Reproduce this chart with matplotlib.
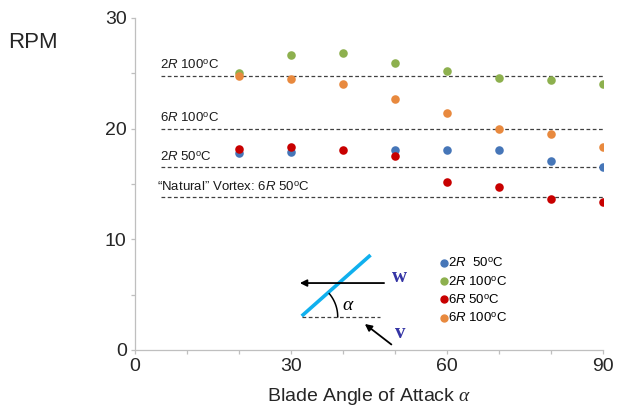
import numpy as np
import matplotlib
matplotlib.use("Agg")
import matplotlib.pyplot as plt
from matplotlib.lines import Line2D

plt.rcParams['font.family'] = ['Liberation Sans', 'DejaVu Sans']
plt.rcParams['mathtext.fontset'] = 'custom'
plt.rcParams['mathtext.rm'] = 'Liberation Sans'
plt.rcParams['mathtext.sf'] = 'Liberation Sans:italic'
plt.rcParams['mathtext.it'] = 'Liberation Serif:italic'

# ---- data ----
angles = [20, 30, 40, 50, 60, 70, 80, 90]
angles_2r50 = [20, 30, 50, 60, 70, 80, 90]
rpm_2r50 = [17.8, 17.9, 18.1, 18.1, 18.05, 17.1, 16.5]
rpm_2r100 = [25.05, 26.65, 26.8, 25.9, 25.2, 24.6, 24.4, 24.0]
rpm_6r50 = [18.2, 18.3, 18.1, 17.5, 15.2, 14.7, 13.6, 13.4]
rpm_6r100 = [24.8, 24.5, 24.0, 22.65, 21.45, 20.0, 19.5, 18.3]

ref_levels = [24.8, 20.0, 16.55, 13.8]
ref_labels = [r"2$\mathsf{R}$ 100$^{\mathrm{o}}$C",
              r"6$\mathsf{R}$ 100$^{\mathrm{o}}$C",
              r"2$\mathsf{R}$ 50$^{\mathrm{o}}$C",
              r"“Natural” Vortex: 6$\mathsf{R}$ 50$^{\mathrm{o}}$C"]

legend_labels = [r"2$\mathsf{R}$  50$^{\mathrm{o}}$C",
                 r"2$\mathsf{R}$ 100$^{\mathrm{o}}$C",
                 r"6$\mathsf{R}$ 50$^{\mathrm{o}}$C",
                 r"6$\mathsf{R}$ 100$^{\mathrm{o}}$C"]

c_blue = '#4676B8'
c_green = '#8DB04E'
c_red = '#C80000'
c_orange = '#E8893E'

fig = plt.figure(figsize=(6.19, 4.17), dpi=100)
ax = fig.add_axes([135/619, 1-350/417, 468/619, 332/417])

ax.set_xlim(0, 90)
ax.set_ylim(0, 30)

# reference lines
for lvl, lab in zip(ref_levels, ref_labels):
    ax.hlines(lvl, 5, 90, colors='#404040', linestyles=(0, (3, 2)), lw=0.9, zorder=1)
    xl = 4.2 if lab.startswith("“") else 4.8
    ax.text(xl, lvl + 0.9, lab, fontsize=9.5, va='center', ha='left', color='#1a1a1a')

s = 38
ax.scatter(angles_2r50, rpm_2r50, s=s, color=c_blue, zorder=3, linewidths=0)
ax.scatter(angles, rpm_2r100, s=s, color=c_green, zorder=3, linewidths=0)
ax.scatter(angles, rpm_6r50, s=s, color=c_red, zorder=3, linewidths=0)
ax.scatter(angles, rpm_6r100, s=s, color=c_orange, zorder=3, linewidths=0)

# legend
handles = [Line2D([], [], marker='o', ls='', color=c, markersize=5)
           for c in (c_blue, c_green, c_red, c_orange)]
ax.legend(handles, legend_labels, loc='upper left',
          bbox_to_anchor=((441-135)/468, (350-257)/332),
          frameon=False, fontsize=9.5, handlelength=0.4, handletextpad=0.15,
          labelspacing=0.38, borderpad=0, borderaxespad=0)

# blade diagram
sx, sy = 468/90, 332/30
ax.plot([32.06, 45.3], [3.07, 8.58], color='#10B0EE', lw=2.6, solid_capstyle='butt', zorder=2)
ax.plot([32.06, 47.1], [3.0, 3.0], color='#404040', lw=0.9, ls=(0, (3, 2)), zorder=2)
ax.annotate('', xy=(31.7, 6.05), xytext=(47.9, 6.05),
            arrowprops=dict(arrowstyle='-|>', color='black', lw=1.3, mutation_scale=10,
                            shrinkA=0, shrinkB=0))
ax.annotate('', xy=(44.2, 2.35), xytext=(49.3, 0.5),
            arrowprops=dict(arrowstyle='-|>', color='black', lw=1.3, mutation_scale=10,
                            shrinkA=0, shrinkB=0))
t = np.radians(np.linspace(0, 40, 30))
r = 36
ax.plot(32.06 + r*np.cos(t)/sx, 3.0 + r*np.sin(t)/sy, color='black', lw=1.1, zorder=2)
ax.text(41.0, 4.0, r"$\alpha$", fontsize=14, ha='center', va='center')
ax.text(49.4, 6.6, "w", fontsize=15, ha='left', va='center', color='#3535A5',
        family='Liberation Serif', fontweight='bold')
ax.text(50.0, 1.5, "v", fontsize=15, ha='left', va='center', color='#3535A5',
        family='Liberation Serif', fontweight='bold')

# axes styling
for sp in ('top', 'right'):
    ax.spines[sp].set_visible(False)
for sp in ('left', 'bottom'):
    ax.spines[sp].set_color('#BFBFBF')
    ax.spines[sp].set_linewidth(0.9)

ax.set_xticks([0, 30, 60, 90])
ax.set_xticks([10, 20, 40, 50, 70, 80], minor=True)
ax.set_yticks([0, 10, 20, 30])
ax.set_yticks([5, 15, 25], minor=True)
ax.tick_params(which='both', direction='out', length=3, color='#BFBFBF', width=0.9,
               labelsize=14, labelcolor='#262626', pad=3)

ax.set_xlabel(r"Blade Angle of Attack $\alpha$", fontsize=14, color='#262626', labelpad=8)
fig.text(8/619, 1-42/417, "RPM", fontsize=16, ha='left', va='center', color='#262626')

fig.savefig("out.png", dpi=100)
